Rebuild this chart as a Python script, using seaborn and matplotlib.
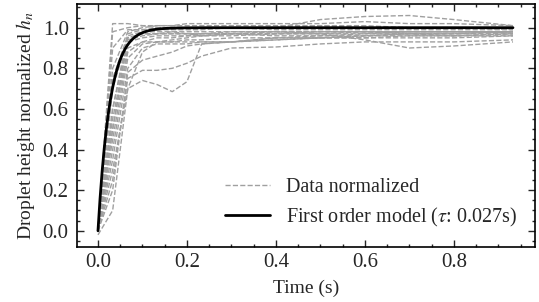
import numpy as np
import pandas as pd
import matplotlib
matplotlib.use("Agg")
import matplotlib.pyplot as plt
from matplotlib.lines import Line2D
from matplotlib.ticker import MultipleLocator
import seaborn as sns

# sample times (s), shared by every normalized run
time_s = [0, 0.033, 0.067, 0.1, 0.133, 0.167, 0.2, 0.233, 0.3, 0.4, 0.5, 0.6, 0.7, 0.8, 0.933]

# normalized droplet height per run
runs = [
    [0, 1.02, 1.02, 1.01, 1.01, 1.01, 1.01, 1.01, 1.01, 1.01, 1.01, 1.01, 1.00, 1.00, 1.00],
    [0, 0.98, 1.00, 1.01, 1.00, 1.00, 1.00, 1.00, 1.00, 1.00, 1.01, 1.00, 1.00, 1.00, 0.99],
    [0, 0.90, 0.99, 0.99, 0.99, 0.99, 0.99, 0.99, 1.00, 0.99, 0.99, 0.99, 0.99, 0.99, 0.99],
    [0, 0.75, 0.96, 0.98, 0.98, 0.98, 0.98, 0.98, 0.98, 0.98, 0.98, 0.98, 0.98, 0.98, 0.98],
    [0, 0.70, 0.95, 0.97, 0.97, 0.98, 0.97, 0.97, 0.98, 0.98, 0.97, 0.97, 0.98, 0.98, 0.98],
    [0, 0.60, 0.94, 0.96, 0.97, 0.97, 0.97, 0.97, 0.97, 0.97, 0.97, 0.98, 0.97, 0.97, 0.97],
    [0, 0.55, 0.93, 0.95, 0.96, 0.96, 0.96, 0.96, 0.97, 0.96, 0.96, 0.97, 0.97, 0.96, 0.97],
    [0, 0.50, 0.90, 0.93, 0.93, 0.93, 0.94, 0.94, 0.95, 0.95, 0.95, 0.96, 0.96, 0.96, 0.96],
    [0, 0.45, 0.88, 0.93, 0.95, 0.95, 0.96, 0.97, 0.97, 0.98, 0.98, 0.98, 0.98, 0.98, 0.98],
    [0, 0.40, 0.85, 0.92, 0.93, 0.93, 0.93, 0.93, 0.93, 0.94, 0.95, 0.96, 0.97, 0.97, 0.98],
    [0, 0.35, 0.80, 0.90, 0.92, 0.92, 0.92, 0.93, 0.93, 0.94, 0.95, 0.95, 0.95, 0.95, 0.96],
    [0, 0.60, 0.97, 0.99, 1.00, 1.00, 1.00, 1.00, 1.00, 1.00, 1.04, 1.055, 1.06, 1.04, 1.01],
    [0, 0.50, 0.95, 0.97, 0.97, 0.97, 0.97, 0.96, 0.96, 0.97, 0.97, 0.94, 0.90, 0.91, 0.93],
    [0, 0.30, 0.70, 0.74, 0.72, 0.685, 0.734, 0.92, 0.93, 0.95, 0.96, 0.96, 0.97, 0.97, 0.98],
    [0, 0.25, 0.75, 0.79, 0.79, 0.80, 0.825, 0.86, 0.90, 0.905, 0.92, 0.93, 0.93, 0.93, 0.94],
    [0, 0.20, 0.78, 0.84, 0.86, 0.88, 0.91, 0.92, 0.93, 0.95, 0.95, 0.95, 0.96, 0.96, 0.97],
    [-0.02, 0.10, 0.70, 0.88, 0.93, 0.94, 0.95, 0.96, 0.97, 0.97, 0.98, 0.98, 0.98, 0.98, 0.98],
    [0, 0.80, 0.98, 1.00, 1.01, 1.01, 1.02, 1.02, 1.02, 1.02, 1.02, 1.03, 1.02, 1.02, 1.01],
]

# fitted first order model
tau = 0.027
t_end = 0.933

sns.set_theme(style="ticks")
plt.rcParams["font.family"] = ["Liberation Serif", "DejaVu Serif"]
plt.rcParams["mathtext.fontset"] = "stix"
plt.rcParams["font.size"] = 14

rows = []
for i, h in enumerate(runs):
    for t, v in zip(time_s, h):
        rows.append({"run": i, "t": t, "h": v})
df = pd.DataFrame(rows)

t_model = np.linspace(0, t_end, 400)
model = pd.DataFrame({"t": t_model, "h": 1 - np.exp(-t_model / tau)})

fig = plt.figure(figsize=(5.39, 3.02), dpi=100)
ax = fig.add_axes([0.143, 0.182, 0.85, 0.805])

sns.lineplot(data=df, x="t", y="h", units="run", estimator=None, color="#a0a0a0",
             linestyle="--", linewidth=1.0, ax=ax, legend=False)
sns.lineplot(data=model, x="t", y="h", color="black", linewidth=2.0, ax=ax, legend=False)

ax.set_xlim(-0.047, 0.983)
ax.set_ylim(-0.08, 1.117)
ax.xaxis.set_major_locator(MultipleLocator(0.2))
ax.xaxis.set_minor_locator(MultipleLocator(0.05))
ax.yaxis.set_major_locator(MultipleLocator(0.2))
ax.yaxis.set_minor_locator(MultipleLocator(0.05))
ax.tick_params(which="both", direction="in", top=True, right=True, labelsize=15)
ax.tick_params(which="major", length=5, width=1.0)
ax.tick_params(which="minor", length=2.5, width=1.0)
ax.tick_params(axis="y", which="major", pad=6)
ax.tick_params(axis="x", which="major", pad=4)
for s in ax.spines.values():
    s.set_linewidth(1.2)
    s.set_color("black")

ax.set_xlabel("Time (s)", fontsize=14, labelpad=6)
ax.set_ylabel("Droplet height normalized $h_n$", fontsize=14, labelpad=4)

handles = [
    Line2D([], [], color="#a0a0a0", linestyle="--", linewidth=1.0),
    Line2D([], [], color="black", linewidth=2.0),
]
labels = ["Data normalized", r"First order model ($\tau$: 0.027s)"]
ax.legend(handles, labels, loc="lower right", frameon=False, fontsize=14.5,
          handlelength=2.2, borderaxespad=0.5, labelspacing=0.45)

fig.savefig("out.png", dpi=100)
